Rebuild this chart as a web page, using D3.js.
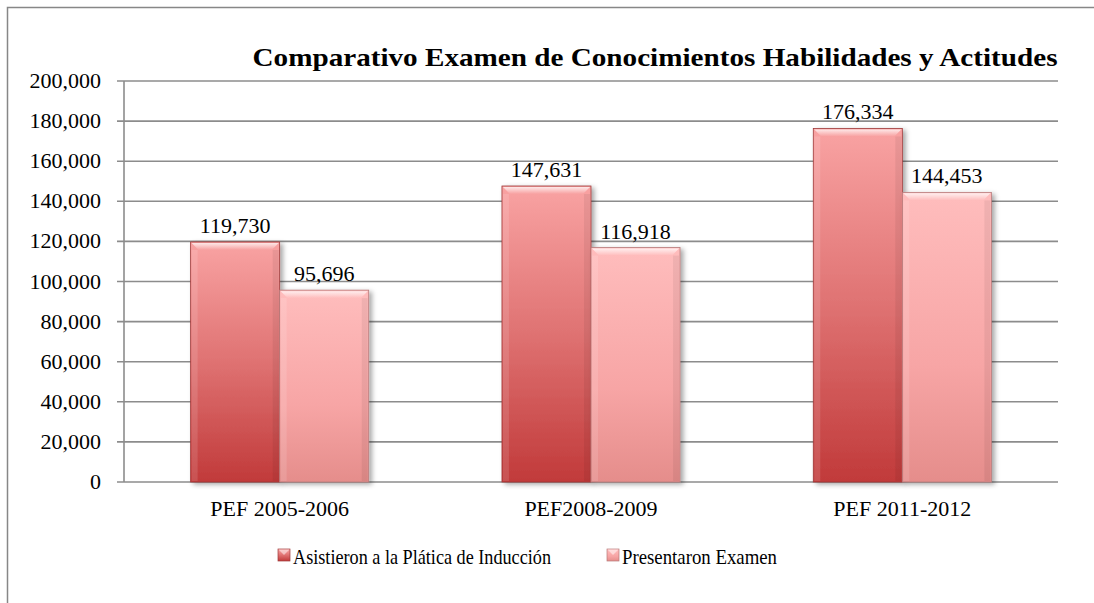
<!DOCTYPE html>
<meta charset="utf-8">
<style>
body { margin: 0; background: #fff; overflow: hidden; }
svg { display: block; }
text { font-family: "Liberation Serif", "DejaVu Serif", serif; fill: #000; }
.grid line { stroke: #8c8c8c; stroke-width: 1.6px; }
</style>
<svg width="1094" height="603"></svg>
<script src="https://d3js.org/d3.v7.min.js"></script>
<script>
var categories = ["PEF 2005-2006", "PEF2008-2009", "PEF 2011-2012"];
var seriesNames = ["Asistieron a la Plática de Inducción", "Presentaron Examen"];
var asistieron = [119730, 147631, 176334];
var presentaron = [95696, 116918, 144453];
var yTicks = [0, 20000, 40000, 60000, 80000, 100000, 120000, 140000, 160000, 180000, 200000];
var title = "Comparativo Examen de Conocimientos Habilidades y Actitudes";

var svg = d3.select("svg");
var fmt = d3.format(",");
var margin = {top: 81, left: 124, right: 1058, bottom: 482};

// outer frame (right and bottom edges fall outside the picture)
svg.append("path").attr("d", "M7.5,640 L7.5,7.5 L1100,7.5")
  .attr("fill", "none").attr("stroke", "#878787").attr("stroke-width", 1.5);

var defs = svg.append("defs");
var g1 = defs.append("linearGradient").attr("id", "gA").attr("x1", 0).attr("y1", 0).attr("x2", 0).attr("y2", 1);
g1.append("stop").attr("offset", "0%").attr("stop-color", "#f9a3a3");
g1.append("stop").attr("offset", "50%").attr("stop-color", "#df7272");
g1.append("stop").attr("offset", "100%").attr("stop-color", "#c13a3a");
var g2 = defs.append("linearGradient").attr("id", "gB").attr("x1", 0).attr("y1", 0).attr("x2", 0).attr("y2", 1);
g2.append("stop").attr("offset", "0%").attr("stop-color", "#ffbdbd");
g2.append("stop").attr("offset", "60%").attr("stop-color", "#f7a5a5");
g2.append("stop").attr("offset", "100%").attr("stop-color", "#e58d8b");
var gh = defs.append("linearGradient").attr("id", "gH").attr("x1", 0).attr("y1", 0).attr("x2", 0).attr("y2", 1);
gh.append("stop").attr("offset", "0%").attr("stop-color", "#fff").attr("stop-opacity", 0.75);
gh.append("stop").attr("offset", "100%").attr("stop-color", "#fff").attr("stop-opacity", 0);
var sh = defs.append("filter").attr("id", "shadow").attr("x", "-20%").attr("y", "-5%").attr("width", "140%").attr("height", "115%");
sh.append("feDropShadow").attr("dx", 3).attr("dy", 2).attr("stdDeviation", 2.5).attr("flood-color", "#000").attr("flood-opacity", 0.35);

var y = d3.scaleLinear().domain([0, 200000]).range([margin.bottom, margin.top]);
var x = d3.scaleBand().domain(categories).range([margin.left, margin.right]).paddingInner(0.428).paddingOuter(0.214);
var xs = d3.scaleBand().domain([0, 1]).range([0, x.bandwidth()]);

// gridlines
svg.append("g").attr("class", "grid").selectAll("line").data(yTicks).enter().append("line")
  .attr("x1", margin.left - 7).attr("x2", margin.right)
  .attr("y1", function(d) { return y(d); }).attr("y2", function(d) { return y(d); });
svg.append("line").attr("x1", margin.left).attr("x2", margin.left).attr("y1", margin.top).attr("y2", margin.bottom)
  .attr("stroke", "#8c8c8c").attr("stroke-width", 1.6);

// y tick labels
svg.append("g").selectAll("text").data(yTicks).enter().append("text")
  .attr("x", 101).attr("y", function(d) { return y(d) + 7; })
  .attr("text-anchor", "end").style("font-size", "22px").text(function(d) { return fmt(d); });

// bars
var rows = [];
categories.forEach(function(c, i) {
  rows.push({cat: c, s: 0, v: asistieron[i]});
  rows.push({cat: c, s: 1, v: presentaron[i]});
});
var bars = svg.append("g").selectAll("g").data(rows).enter().append("g")
  .attr("transform", function(d) { return "translate(" + (x(d.cat) + xs(d.s)) + "," + y(d.v) + ")"; });
bars.append("rect").attr("width", xs.bandwidth()).attr("height", function(d) { return y(0) - y(d.v); })
  .attr("fill", function(d) { return d.s ? "url(#gB)" : "url(#gA)"; })
  .attr("stroke", function(d) { return d.s ? "#b77a7a" : "#9e3a3a"; }).attr("stroke-width", 0.8)
  .attr("filter", "url(#shadow)");
// bevel highlight on top
bars.append("path").attr("d", function() {
  var w = xs.bandwidth();
  return "M1,1 L" + (w - 1) + ",1 L" + (w - 8) + ",8 L8,8 Z";
}).attr("fill", "url(#gH)");
bars.append("rect").attr("x", 1).attr("y", 8).attr("width", 6).attr("height", function(d) { return y(0) - y(d.v) - 9; })
  .attr("fill", "#fff").attr("opacity", 0.12);
bars.append("rect").attr("x", xs.bandwidth() - 7).attr("y", 8).attr("width", 6).attr("height", function(d) { return y(0) - y(d.v) - 9; })
  .attr("fill", "#000").attr("opacity", 0.06);
bars.append("text").attr("x", xs.bandwidth() / 2).attr("y", -9).attr("text-anchor", "middle")
  .style("font-size", "22px").text(function(d) { return fmt(d.v); });

// category labels
svg.append("g").selectAll("text").data(categories).enter().append("text")
  .attr("x", function(d) { return x(d) + x.bandwidth() / 2; }).attr("y", 516)
  .attr("text-anchor", "middle").style("font-size", "22px").text(function(d) { return d; });

// title
svg.append("text").attr("x", 655).attr("y", 66).attr("text-anchor", "middle")
  .attr("textLength", 805).attr("lengthAdjust", "spacingAndGlyphs")
  .style("font-size", "26px").style("font-weight", "bold").text(title);

// legend
var legX = [278, 607];
var legW = [258, 155];
var leg = svg.append("g").selectAll("g").data(seriesNames).enter().append("g")
  .attr("transform", function(d, i) { return "translate(" + legX[i] + ",549)"; });
leg.append("rect").attr("width", 12).attr("height", 12)
  .attr("fill", function(d, i) { return i ? "url(#gB)" : "url(#gA)"; })
  .attr("stroke", function(d, i) { return i ? "#b77a7a" : "#9e3a3a"; }).attr("stroke-width", 0.7);
leg.append("path").attr("d", "M0.5,0.5 L11.5,0.5 L6,6 Z").attr("fill", "#fff").attr("opacity", 0.5);
leg.append("text").attr("x", 15).attr("y", 15)
  .attr("textLength", function(d, i) { return legW[i]; }).attr("lengthAdjust", "spacingAndGlyphs")
  .style("font-size", "21px").text(function(d) { return d; });
</script>
